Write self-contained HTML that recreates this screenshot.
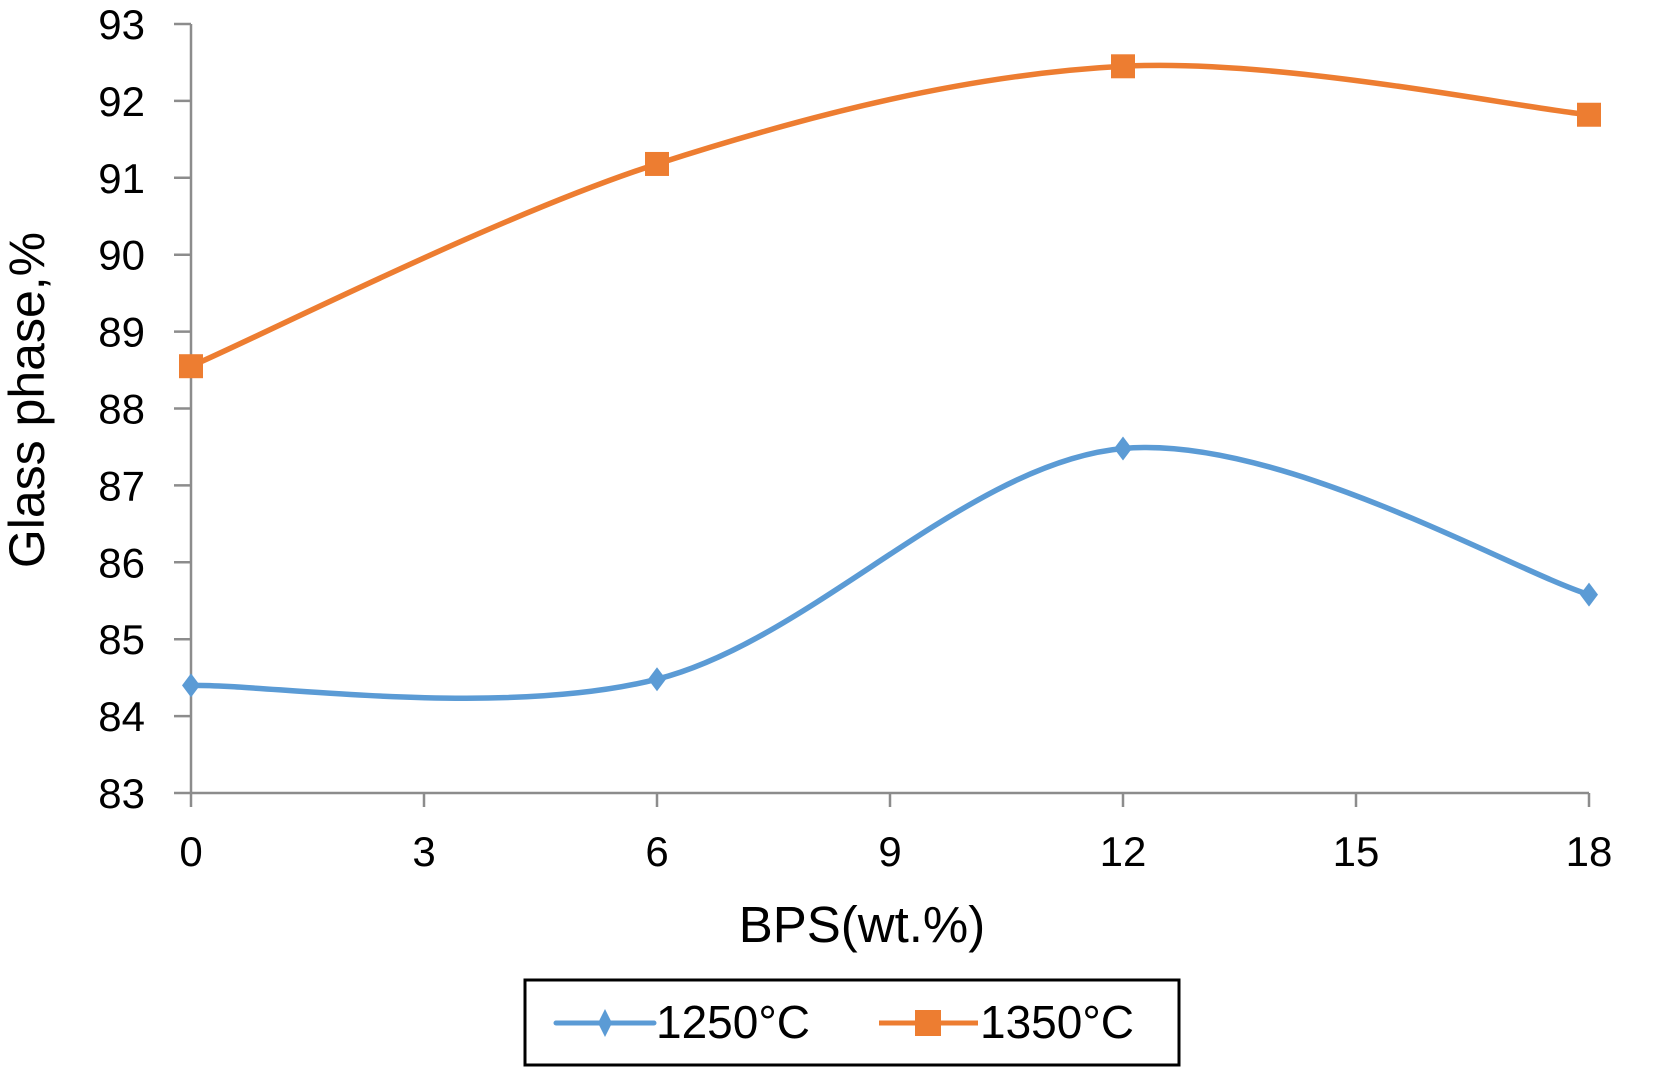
<!DOCTYPE html>
<html><head><meta charset="utf-8"><style>
html,body{margin:0;padding:0;background:#fff;}
svg{display:block;font-family:"Liberation Sans",Arial,sans-serif;}
</style></head><body>
<svg id="chart" width="1680" height="1067" viewBox="0 0 1680 1067" xmlns="http://www.w3.org/2000/svg">
<g id="axes"></g>
<g id="series"></g>
<text x="862" y="942" font-size="51" text-anchor="middle" fill="#000">BPS(wt.%)</text>
<text transform="translate(44,400) rotate(-90)" font-size="50" text-anchor="middle" fill="#000">Glass phase,%</text>
<g>
<rect x="525" y="980" width="654" height="85" fill="#fff" stroke="#000" stroke-width="3"/>
<g>
<line x1="556" y1="1023" x2="654" y2="1023" stroke="#5b9bd5" stroke-width="5" stroke-linecap="round"/>
<path d="M605,1009 L612,1023 L605,1037 L598,1023 Z" fill="#5b9bd5"/>
<text x="656" y="1038" font-size="46" fill="#000">1250°C</text>
</g>
<g>
<line x1="879" y1="1023" x2="978" y2="1023" stroke="#ed7d31" stroke-width="5"/>
<rect x="915" y="1010" width="26" height="26" fill="#ed7d31"/>
<text x="980" y="1038" font-size="46" fill="#000">1350°C</text>
</g>
</g>
</svg>
<script>
const xValues = [0, 6, 12, 18];
const series1250 = [84.4, 84.48, 87.48, 85.58];
const series1350 = [88.55, 91.18, 92.45, 91.82];
const xTicks = [0, 3, 6, 9, 12, 15, 18];
const yTicks = [83, 84, 85, 86, 87, 88, 89, 90, 91, 92, 93];

const NS = "http://www.w3.org/2000/svg";
const X0 = 191, X1 = 1589, Y0 = 793, Y1 = 24;
const xMin = 0, xMax = 18, yMin = 83, yMax = 93;
function sx(v){ return X0 + (v - xMin) / (xMax - xMin) * (X1 - X0); }
function sy(v){ return Y0 - (v - yMin) / (yMax - yMin) * (Y0 - Y1); }
function mk(tag, attrs, parent){
  const e = document.createElementNS(NS, tag);
  for (const k in attrs) e.setAttribute(k, attrs[k]);
  parent.appendChild(e); return e;
}
const axes = document.getElementById('axes');
const ax = mk('line', {x1:X0, y1:Y1, x2:X0, y2:Y0, stroke:'#8c8c8c', 'stroke-width':2.5}, axes);


const bx = mk('line', {x1:X0, y1:Y0, x2:X1, y2:Y0, stroke:'#8c8c8c', 'stroke-width':2.5}, axes);


yTicks.forEach(t => {
  const y = sy(t);
  const tl = mk('line', {x1:X0-17, y1:y, x2:X0, y2:y, stroke:'#8c8c8c', 'stroke-width':2.5}, axes);
  
  
  const tx = mk('text', {x:145, y:y+15, 'font-size':42, 'text-anchor':'end', fill:'#000'}, axes);
  tx.textContent = t;
  
  
});
xTicks.forEach(t => {
  const x = sx(t);
  const tl = mk('line', {x1:x, y1:Y0, x2:x, y2:Y0+14, stroke:'#8c8c8c', 'stroke-width':2.5}, axes);
  
  
  const tx = mk('text', {x:x, y:866, 'font-size':42, 'text-anchor':'middle', fill:'#000'}, axes);
  tx.textContent = t;
  
  
});
function smooth(pts){
  let d = 'M' + pts[0][0] + ',' + pts[0][1];
  const tension = 1/6;
  for (let i = 0; i < pts.length - 1; i++){
    const p0 = pts[i-1] || pts[i], p1 = pts[i], p2 = pts[i+1], p3 = pts[i+2] || p2;
    const c1x = p1[0] + (p2[0]-p0[0])*tension, c1y = p1[1] + (p2[1]-p0[1])*tension;
    const c2x = p2[0] - (p3[0]-p1[0])*tension, c2y = p2[1] - (p3[1]-p1[1])*tension;
    d += ' C' + c1x + ',' + c1y + ' ' + c2x + ',' + c2y + ' ' + p2[0] + ',' + p2[1];
  }
  return d;
}
const sg = document.getElementById('series');
function drawSeries(vals, color, name, marker){
  const pts = xValues.map((x, i) => [sx(x), sy(vals[i])]);
  const p = mk('path', {d:smooth(pts), fill:'none', stroke:color, 'stroke-width':5.5}, sg);
  
  
  pts.forEach(pt => {
    let m;
    if (marker === 'square') {
      m = mk('rect', {x:pt[0]-12, y:pt[1]-12, width:24, height:24, fill:color}, sg);
    } else {
      m = mk('path', {d:`M${pt[0]},${pt[1]-12} L${pt[0]+9},${pt[1]} L${pt[0]},${pt[1]+12} L${pt[0]-9},${pt[1]} Z`, fill:color}, sg);
    }
    
    
  });
}
drawSeries(series1250, '#5b9bd5', 'series-1250', 'diamond');
drawSeries(series1350, '#ed7d31', 'series-1350', 'square');
</script>
</body></html>
